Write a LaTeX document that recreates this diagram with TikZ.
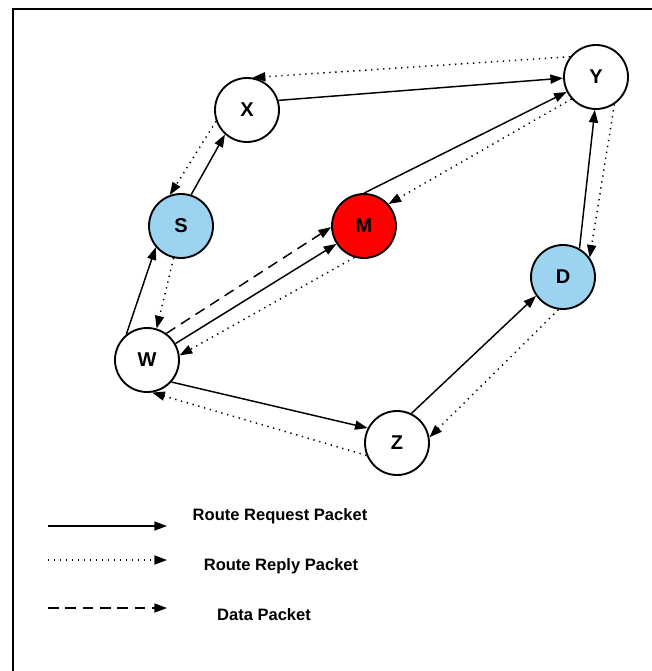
\documentclass[tikz,border=0pt]{standalone}
\usepackage{fontspec}
\setmainfont{Liberation Sans}
\usetikzlibrary{arrows.meta}
\definecolor{endblue}{RGB}{155,211,241}

\begin{document}
\begin{tikzpicture}[x=0.75pt, y=-0.75pt,
    station/.style={circle, draw, line width=1.4pt, minimum size=48pt,
                    inner sep=0pt, font=\fontsize{15}{17}\selectfont\bfseries},
    request/.style={line width=1.1pt, -{Triangle[length=9.5pt,width=6.8pt]}},
    reply/.style={request, dash pattern=on 1pt off 3.5pt},
    data/.style={request, dash pattern=on 8pt off 5pt},
    legend/.style={font=\fontsize{12.4}{14}\selectfont\bfseries}]
  \useasboundingbox (0,0) rectangle (651,671);
  \draw[line width=2.2pt] (13,675) -- (13,9) -- (655,9);

  % nodes
  \node[station] (X) at (247,110) {X};
  \node[station] (Y) at (596,77) {Y};
  \node[station, fill=endblue] (S) at (181,226) {S};
  \node[station, fill=red] (M) at (364,226) {M};
  \node[station] (W) at (147,360) {W};
  \node[station, fill=endblue] (D) at (563,277) {D};
  \node[station] (Z) at (397,443) {Z};

  % route request
  \draw[request] (S.72) -- (X.228);
  \draw[request] (X.17) -- (Y.182);
  \draw[request] (W.129) -- (S.220);
  \draw[request] (W.30) -- (M.213);
  \draw[request] (M.90) -- (Y.207);
  \draw[request] (W.318) -- (Z.153);
  \draw[request] (Z.64) -- (D.215);
  \draw[request] (D.60) -- (Y.268);

  % route reply
  \draw[reply] (Y.142) -- (X.80);
  \draw[reply] (X.200) -- (S.110);
  \draw[reply] (S.257) -- (W.73);
  \draw[reply] (M.253) -- (W.8);
  \draw[reply] (Y.222) -- (M.42);
  \draw[reply] (Y.304) -- (D.36);
  \draw[reply] (D.262) -- (Z.10);
  \draw[reply] (Z.202) -- (W.279);

  % data
  \draw[data] (W.54) -- (M.182);

  % legend
  \coordinate (reqA) at (48,526);  \coordinate (reqB) at (167,526);
  \coordinate (repA) at (48,560);  \coordinate (repB) at (167,560);
  \coordinate (datA) at (48,608);  \coordinate (datB) at (167,608);
  \draw[request] (reqA) -- (reqB);
  \draw[reply] (repA) -- (repB);
  \draw[data] (datA) -- (datB);
  \node[legend] (reqText) at (280,516) {Route Request Packet};
  \node[legend] (repText) at (281,566) {Route Reply Packet};
  \node[legend] (datText) at (264,615) {Data Packet};
\end{tikzpicture}
\end{document}
